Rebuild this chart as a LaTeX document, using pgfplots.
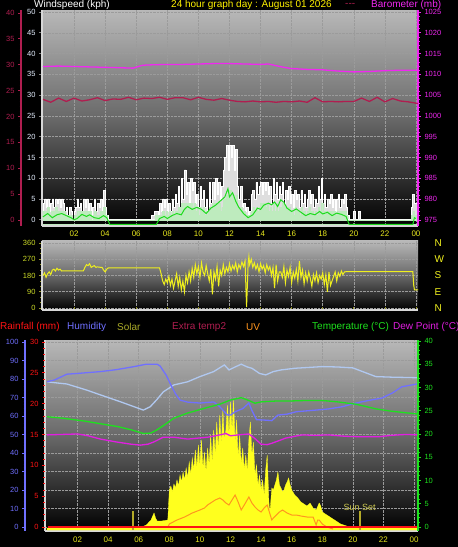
\documentclass[border=0pt]{standalone}
\usepackage{fontspec}
\setmainfont{Liberation Sans}
\usepackage{pgfplots}
\usepackage{pgfplotstable}
\pgfplotsset{compat=1.18}

\definecolor{crim}{RGB}{176,30,80}
\definecolor{magc}{RGB}{240,40,240}
\definecolor{ticky}{RGB}{232,232,30}
\definecolor{whitel}{RGB}{230,240,255}
\definecolor{gustc}{RGB}{222,222,222}
\definecolor{speedc}{RGB}{190,235,190}
\definecolor{avgc}{RGB}{30,220,30}
\definecolor{dirc}{RGB}{240,240,30}
\definecolor{dirlab}{RGB}{205,220,40}
\definecolor{dirtick}{RGB}{150,150,40}
\definecolor{humc}{RGB}{112,112,255}
\definecolor{paleb}{RGB}{176,200,240}
\definecolor{tempc}{RGB}{30,225,30}
\definecolor{dewc}{RGB}{225,30,225}
\definecolor{solc}{RGB}{255,255,30}
\definecolor{uvc}{RGB}{255,150,30}
\definecolor{rainc}{RGB}{255,20,20}
\definecolor{sunc}{RGB}{180,170,40}
\definecolor{sunt}{RGB}{205,200,80}
\definecolor{solt}{RGB}{170,170,40}
\definecolor{gridc}{RGB}{155,155,155}
\definecolor{borderc}{RGB}{215,215,215}
\definecolor{bgtop}{RGB}{184,184,184}
\definecolor{bgmid}{RGB}{105,105,105}

\pgfplotsset{
  every tick label/.append style={font=\fontsize{7.5}{8}\selectfont},
  /pgf/number format/assume math mode=true,
  /pgf/number format/1000 sep={},
  stdbox/.style={scale only axis, anchor=south west},
  panelbg/.style={axis background/.style={shade, top color=bgtop, bottom color=black, middle color=bgmid}},
}

\pgfplotstableread{
t gust speed
0.0 4 2
0.1 5 2
0.2 3 1
0.3 5 3
0.4 2 1
0.5 4 2
0.6 5 2
0.7 3 1
0.8 5 3
0.9 4 2
1.0 5 2
1.1 3 1
1.2 5 2
1.3 4 2
1.4 2 1
1.5 3 1
1.6 1 0
1.7 3 1
1.8 2 1
1.9 0 0
2.0 2 1
2.1 3 1
2.2 5 2
2.3 3 1
2.4 4 2
2.5 2 1
2.6 5 2
2.7 3 1
2.8 5 2
2.9 2 1
3.0 4 2
3.1 1 0
3.2 3 1
3.3 5 2
3.4 2 1
3.5 4 1
3.6 3 1
3.7 5 2
3.8 2 1
3.9 7 3
4.0 3 1
4.1 1 0
4.2 0 0
7.0 1 0
7.2 2 1
7.4 1 0
7.5 4 1
7.6 2 1
7.7 5 2
7.8 3 1
7.9 5 2
8.0 2 1
8.1 4 2
8.2 2 1
8.3 5 2
8.4 3 1
8.5 6 2
8.6 4 2
8.7 8 3
8.8 3 1
8.9 10 4
9.0 5 2
9.1 12 4
9.2 6 3
9.3 9 4
9.4 4 2
9.5 10 4
9.6 7 3
9.7 9 4
9.8 4 2
9.9 6 3
10.0 3 1
10.1 8 3
10.2 5 2
10.3 7 3
10.4 3 1
10.5 5 2
10.6 2 1
10.7 9 3
10.8 4 2
10.9 9 4
11.0 5 2
11.1 10 4
11.2 6 3
11.3 9 4
11.4 5 2
11.5 8 3
11.6 12 5
11.7 15 5
11.8 18 6
11.9 12 5
12.0 18 7
12.1 15 5
12.2 18 6
12.3 12 5
12.4 17 6
12.5 8 3
12.6 5 2
12.7 8 3
12.8 3 1
12.9 4 2
13.0 2 1
13.1 3 1
13.2 0 0
13.3 2 1
13.4 6 2
13.5 7 3
13.6 5 2
13.7 9 3
13.8 6 2
13.9 8 3
14.0 9 4
14.1 6 2
14.2 9 4
14.3 7 3
14.4 9 4
14.5 6 2
14.6 8 3
14.7 4 2
14.8 10 4
14.9 6 2
15.0 9 4
15.1 5 2
15.2 8 3
15.3 6 2
15.4 9 4
15.5 4 2
15.6 7 3
15.7 5 2
15.8 8 3
15.9 4 2
16.0 6 2
16.1 3 1
16.2 7 3
16.3 5 2
16.4 6 2
16.5 3 1
16.6 7 3
16.7 4 2
16.8 6 2
16.9 3 1
17.0 5 2
17.1 7 3
17.2 4 2
17.3 6 2
17.4 3 1
17.5 5 2
17.6 4 1
17.7 8 3
17.8 5 2
17.9 10 4
18.0 4 2
18.1 6 2
18.2 3 1
18.3 5 2
18.4 4 1
18.5 6 2
18.6 3 1
18.7 5 2
18.8 2 1
18.9 5 2
19.0 6 2
19.1 3 1
19.2 5 2
19.3 4 1
19.4 6 2
19.5 3 1
19.6 1 0
19.7 0 0
20.0 2 0
20.1 0 0
20.3 2 0
20.4 0 0
23.7 3 1
23.8 6 2
23.9 4 1
24.0 4 1
24.2 4 1
}\windtab

\pgfplotstableread{
t dir
0.0 180
0.1 195
0.2 170
0.3 190
0.4 200
0.5 185
0.6 210
0.7 215
0.8 205
0.9 220
1.0 210
1.1 215
1.2 205
1.3 206
2.6 206
2.7 225
2.8 240
2.9 235
3.0 245
3.1 225
3.2 230
3.3 235
3.4 225
3.5 228
3.6 226
3.8 225
3.9 210
4.0 200
4.1 215
4.2 222
7.5 222
7.6 190
7.7 150
7.8 130
7.9 160
8.0 140
8.1 175
8.2 125
8.3 160
8.4 110
8.5 150
8.6 190
8.7 120
8.8 170
8.9 100
9.0 150
9.1 90
9.2 180
9.3 140
9.4 200
9.5 150
9.6 220
9.7 170
9.8 240
9.9 190
10.0 230
10.1 170
10.2 250
10.3 200
10.4 180
10.5 235
10.6 190
10.7 150
10.8 215
10.9 75
11.0 200
11.1 160
11.2 230
11.3 120
11.4 210
11.5 180
11.6 240
11.7 190
11.8 225
11.9 200
12.0 245
12.1 205
12.2 235
12.3 215
12.4 250
12.5 200
12.6 240
12.7 220
12.8 255
12.9 230
13.0 260
13.1 5
13.2 245
13.25 285
13.3 240
13.4 270
13.5 225
13.6 250
13.7 215
13.8 240
13.9 200
14.0 245
14.1 215
14.2 235
14.3 195
14.4 240
14.5 210
14.6 230
14.7 180
14.8 225
14.9 110
15.0 240
15.1 150
15.2 200
15.3 200
15.4 170
15.5 230
15.6 140
15.7 210
15.8 175
15.9 225
16.0 140
16.1 200
16.2 165
16.3 215
16.4 150
16.5 260
16.6 170
16.7 210
16.8 135
16.9 195
17.0 150
17.1 200
17.2 165
17.3 120
17.4 185
17.5 150
17.6 195
17.7 140
17.8 180
17.9 160
18.0 195
18.1 130
18.2 185
18.3 90
18.4 200
18.5 125
18.6 150
18.7 175
18.8 200
18.9 150
19.0 195
19.1 175
19.2 205
19.3 185
19.4 200
19.5 201
23.8 201
23.85 130
23.9 100
24.2 100
}\dirtab

\pgfplotstableread{
t sol
0 2
6.0 2
6.2 3
6.5 5
6.8 10
7.0 17
7.1 12
7.2 9
7.5 9
7.9 10
8.0 40
8.1 44
8.2 38
8.3 46
8.4 42
8.5 50
8.6 44
8.7 55
8.8 48
8.9 58
9.0 50
9.1 62
9.2 52
9.3 68
9.4 55
9.5 72
9.6 60
9.7 80
9.8 62
9.9 85
10.0 65
10.1 90
10.2 62
10.3 78
10.4 58
10.5 82
10.6 65
10.7 95
10.8 68
10.9 100
11.0 75
11.1 108
11.2 80
11.3 115
11.4 85
11.5 120
11.6 90
11.7 100
11.8 125
11.9 95
12.0 128
12.1 100
12.2 130
12.3 88
12.4 110
12.5 72
12.6 95
12.7 65
12.8 82
12.9 60
13.0 75
13.1 58
13.2 90
13.3 108
13.4 75
13.5 88
13.6 55
13.7 65
13.8 45
13.9 55
14.0 40
14.1 50
14.2 35
14.3 60
14.4 75
14.5 32
14.55 20
14.6 22
14.7 42
14.8 40
14.9 45
15.0 50
15.1 58
15.2 45
15.3 42
15.4 38
15.5 40
15.6 45
15.7 48
15.8 52
15.9 45
16.0 40
16.2 35
16.4 32
16.6 28
16.8 26
17.0 24
17.2 27
17.4 22
17.6 20
17.8 27
17.9 24
18.0 18
18.2 16
18.4 14
18.6 12
18.8 10
19.0 8
19.2 6
19.4 5
19.6 4
19.8 3
20.0 2
24.2 2
}\soltab

\begin{document}
\begin{tikzpicture}
\useasboundingbox (0,0) rectangle (458pt,547pt);
\fill[black] (0,0) rectangle (458pt,547pt);

% ---------------- titles ----------------
\begin{scope}[every node/.style={anchor=west, inner sep=0pt, font=\fontsize{10}{12}\selectfont}]
\node[white] at (34pt,542pt) {Windspeed (kph)};
\node[text=yellow] at (171pt,542pt) {24 hour graph day : August 01 2026};
\node[text=crim] at (345pt,542pt) {{-}{-}{-}};
\node[text=magc] at (371pt,542pt) {Barometer (mb)};
\node[text=rainc] at (0pt,220pt) {Rainfall (mm)};
\node[text=humc] at (67pt,220pt) {Humidity};
\node[text=solt] at (117pt,220pt) {Solar};
\node[text=crim] at (172pt,220pt) {Extra temp2};
\node[text=uvc] at (246pt,220pt) {UV};
\node[text=tempc] at (312pt,220pt) {Temperature (°C)};
\node[text=dewc] at (393pt,220pt) {Dew Point (°C)};
\end{scope}

% ---------------- top panel: wind ----------------
\begin{axis}[stdbox, at={(42pt,321pt)}, width=376pt, height=216pt,
  xmin=-0.064, xmax=24.13, ymin=-1.5, ymax=50.5,
  panelbg,
  axis x line*=bottom, axis y line*=left,
  axis line style={borderc, line width=1.2pt, -},
  xtick={2,4,...,24}, xticklabels={02,04,06,08,10,12,14,16,18,20,22,00},
  ytick={0,5,...,50},
  grid=major, grid style={gridc, densely dotted, line width=0.6pt},
  xtick align=inside, ytick align=outside,
  tick style={gray, line width=0.8pt}, major tick length=3pt,
  xticklabel style={ticky, font=\fontsize{8}{9}\selectfont, yshift=-1.5pt},
  yticklabel style={whitel},
]
\addplot[const plot, fill=gustc, draw=white, line width=0.8pt] table[x=t, y=gust] {\windtab} \closedcycle;
\addplot[const plot, fill=speedc, draw=speedc, line width=0.4pt] table[x=t, y=speed] {\windtab} \closedcycle;
\addplot[speedc, line width=1.3pt] coordinates {(0,-1.1) (24.13,-1.1)};
\addplot[avgc, line width=1pt] coordinates {
(0,0.7) (0.3,1.5) (0.6,0.5) (0.9,1.2) (1.2,1.5) (1.5,1.0) (1.8,0.5) (2.0,0) (2.2,0.3) (2.5,1.3) (2.8,0.8) (3.0,1.2) (3.3,0.5) (3.6,0.3) (3.9,1.0) (4.1,0.5) (4.3,-1.1) (7.3,-1.1) (7.5,0.3) (7.8,0.8) (8.0,0.3) (8.3,1.0) (8.6,1.5) (8.9,1.2) (9.1,2.5) (9.3,3.2) (9.6,2.5) (9.9,3.0) (10.2,2.5) (10.5,1.5) (10.8,2.8) (11.1,3.5) (11.4,4.5) (11.7,5.5) (11.9,7.5) (12.0,5.5) (12.2,6.5) (12.4,4.5) (12.6,3.0) (12.9,1.5) (13.2,0.5) (13.5,1.2) (13.8,2.8) (14.0,2.5) (14.2,3.5) (14.5,4.0) (14.7,3.6) (14.9,4.3) (15.1,3.2) (15.3,4.8) (15.5,4.2) (15.7,2.8) (16.0,2.0) (16.3,2.6) (16.6,1.8) (16.9,1.0) (17.2,1.5) (17.5,1.2) (17.8,2.0) (18.0,1.4) (18.3,1.8) (18.6,1.0) (18.9,1.6) (19.2,1.3) (19.5,0.8) (19.7,-1.1) (23.8,-1.1) (23.9,0.5) (24.0,0.3)};
\end{axis}

% barometer
\begin{axis}[stdbox, at={(42pt,321pt)}, width=376pt, height=216pt,
  xmin=-0.064, xmax=24.13, ymin=973.56, ymax=1025.48,
  hide x axis, axis y line*=right,
  axis line style={magc, line width=1.2pt, -},
  ytick={975,980,...,1025}, minor y tick num=4,
  ytick align=outside, tick style={magc, line width=0.8pt},
  major tick length=3pt, minor tick length=1.5pt,
  yticklabel style={magc},
]
\addplot[magc, line width=1.3pt] coordinates {
(0,1011.9) (1,1012.0) (2,1011.9) (3,1011.8) (4,1011.7) (5,1011.6) (5.8,1011.5) (6.4,1012.2) (7,1012.3) (8,1012.4) (9,1012.4) (10,1012.5) (11,1012.6) (12,1012.6) (13,1012.5) (14,1012.4) (14.5,1012.5) (15,1012.1) (15.5,1011.7) (16,1011.4) (17,1011.2) (18,1011.1) (19,1010.8) (20,1010.6) (21,1010.7) (22,1010.9) (23,1011.0) (24.13,1011.0)};
\addplot[crim, line width=1.3pt] coordinates {
(0,1004.0) (0.5,1003.3) (1,1004.3) (1.5,1003.5) (2,1004.3) (2.5,1003.6) (3,1003.9) (3.5,1004.4) (4,1003.7) (4.5,1004.1) (5,1004.0) (5.5,1004.5) (6,1003.9) (6.5,1004.3) (7,1004.2) (7.5,1004.5) (8,1004.0) (8.5,1004.4) (9,1004.4) (9.5,1003.9) (10,1004.5) (10.5,1004.0) (11,1003.8) (11.5,1004.2) (12,1003.8) (12.5,1003.5) (13,1003.4) (13.5,1003.6) (14,1003.4) (14.5,1003.5) (15,1003.3) (15.5,1003.5) (16,1003.4) (16.5,1003.6) (17,1003.3) (17.5,1004.4) (18,1003.4) (18.5,1003.5) (19,1003.4) (19.5,1003.5) (20,1003.5) (20.5,1004.3) (21,1003.5) (21.5,1004.5) (22,1003.4) (22.5,1004.2) (23,1003.6) (23.5,1003.4) (24.13,1003.0)};
\end{axis}

% crimson scale at far left
\begin{axis}[stdbox, at={(21pt,321pt)}, width=1pt, height=216pt,
  xmin=0, xmax=1, ymin=-1.16, ymax=40.58,
  hide x axis, axis y line*=left,
  axis line style={crim, line width=1.6pt, -},
  ytick={0,5,...,40}, minor y tick num=4,
  ytick align=outside, tick style={crim, line width=0.8pt},
  major tick length=3pt, minor tick length=1.5pt,
  yticklabel style={crim},
]
\end{axis}

% ---------------- middle panel: direction ----------------
\begin{axis}[stdbox, at={(42pt,237pt)}, width=376pt, height=69pt,
  xmin=-0.064, xmax=24.13, ymin=-11, ymax=371,
  panelbg,
  axis x line*=bottom, axis y line*=left,
  axis line style={borderc, line width=1.2pt, -},
  xtick={2,4,...,24}, xticklabels={},
  ytick={0,90,180,270,360}, minor y tick num=2,
  grid=major, grid style={gridc, densely dotted, line width=0.6pt},
  xtick align=inside, ytick align=outside,
  tick style={dirtick, line width=0.8pt}, major tick length=3pt, minor tick length=1.5pt,
  yticklabel style={dirlab},
]
\addplot[dirc, line width=1pt] table[x=t, y=dir] {\dirtab};
\end{axis}

\begin{axis}[stdbox, at={(42pt,237pt)}, width=376pt, height=69pt,
  xmin=-0.064, xmax=24.13, ymin=-11, ymax=371,
  hide x axis, axis y line*=right,
  axis line style={draw=none},
  ytick={0,90,180,270,360}, yticklabels={N,E,S,W,N},
  major tick length=0pt,
  yticklabel style={text=dirc, font=\fontsize{10}{12}\selectfont, xshift=13pt},
]
\end{axis}

% ---------------- bottom panel ----------------
% solar (pixel units) axis with background and grid
\begin{axis}[stdbox, at={(45pt,16pt)}, width=373pt, height=191pt,
  xmin=-0.13, xmax=24.26, ymin=-1, ymax=190,
  panelbg,
  axis x line*=bottom, axis y line*=left,
  axis line style={borderc, line width=1.2pt, -},
  xtick={2,4,...,24}, xticklabels={02,04,06,08,10,12,14,16,18,20,22,00},
  ytick={3,21.5,40,58.5,77,95.5,114,132.5,151,169.5,188}, yticklabels={},
  grid=major, grid style={gridc, densely dotted, line width=0.6pt},
  major tick length=0pt,
  xticklabel style={ticky, font=\fontsize{8}{9}\selectfont, yshift=-2.5pt},
]
\addplot[fill=solc, draw=solc, line width=0.3pt] table[x=t, y=sol] {\soltab} \closedcycle;
\addplot[uvc, line width=1pt] coordinates {
(7.9,3) (8.0,6) (8.5,10) (9.0,13) (9.5,17) (10.0,20) (10.3,22) (10.5,25) (10.8,28) (11.0,30) (11.3,32) (11.5,30) (11.7,27) (11.9,25) (12.1,30) (12.3,35) (12.5,28) (12.7,20) (12.9,25) (13.2,33) (13.4,27) (13.6,23) (13.8,20) (14.0,18) (14.2,22) (14.4,25) (14.6,15) (14.7,10) (14.8,12) (15.0,15) (15.2,18) (15.4,20) (15.7,17) (16.0,15) (16.3,15) (16.6,14) (17.0,13) (17.4,13) (17.6,5) (17.7,10) (17.8,10) (18.0,6) (18.3,3) (18.7,1)};
\addplot[sunc, line width=1.6pt] coordinates {(5.64,0) (5.64,19)};
\addplot[sunc, line width=1.6pt] coordinates {(20.45,0) (20.45,19)};
\node[text=sunt, font=\fontsize{9}{10}\selectfont] at (axis cs:20.45,23) {Sun Set};
\end{axis}

% humidity lines
\begin{axis}[stdbox, at={(45pt,16pt)}, width=373pt, height=191pt,
  xmin=-0.13, xmax=24.26, ymin=-2.16, ymax=101.08, hide axis]
\addplot[paleb, line width=1.3pt] coordinates {
(0,78.5) (0.5,78) (1.3,77.3) (2.6,74) (3.5,71.4) (4.8,67.7) (5.7,65) (6.3,63.2) (6.75,65) (7.2,69) (7.6,73) (8.3,76.8) (9.2,78.5) (10,81.3) (10.9,84) (11.6,87.6) (11.9,84.9) (12.3,86.5) (12.7,88) (13.1,86.5) (13.4,85.8) (13.9,83) (14.3,82.2) (14.8,84) (15.3,84.9) (16.2,85.8) (17,86.2) (18,86.7) (19,86.5) (20,86) (20.8,83.5) (21.5,81.3) (22.5,81) (24.2,80.7)};
\addplot[humc, line width=1.3pt] coordinates {
(0,78.5) (0.5,79.5) (1.3,82.6) (2,83) (3.5,84) (4.5,85) (5.7,86.7) (6.5,88) (7.2,88) (7.4,87) (7.8,82) (8.1,76.8) (8.4,72) (8.7,68.6) (9.2,67.5) (10,67) (10.9,67.6) (11.3,65) (11.8,60.5) (12,60.5) (12.3,62.3) (12.8,64) (13.2,67) (13.4,63) (13.7,58) (14.2,57.8) (14.7,57.5) (15.1,60.5) (15.7,61) (16.3,62.3) (17.3,63) (18.4,63.8) (19.3,65) (20.2,67) (21.1,68.5) (21.9,69.7) (22.6,72.5) (23.2,75.8) (24.2,77.3)};
\end{axis}

% rainfall scale and line
\begin{axis}[stdbox, at={(45pt,16pt)}, width=373pt, height=191pt,
  xmin=-0.13, xmax=24.26, ymin=-0.65, ymax=30.32,
  hide x axis, axis y line*=left,
  axis line style={draw=none},
  ytick={0,5,...,30}, minor y tick num=4,
  ytick align=outside, tick style={rainc, line width=0.8pt},
  major tick length=3pt, minor tick length=1.5pt,
  yticklabel style={rainc},
]
\addplot[rainc, line width=2.5pt] coordinates {(0.05,0) (24.2,0)};
\end{axis}

% humidity scale at far left
\begin{axis}[stdbox, at={(25pt,16pt)}, width=1pt, height=191pt,
  xmin=0, xmax=1, ymin=-2.16, ymax=101.08,
  hide x axis, axis y line*=left,
  axis line style={humc, line width=1.6pt, -},
  ytick={0,10,...,100}, minor y tick num=4,
  ytick align=outside, tick style={humc, line width=0.8pt},
  major tick length=3pt, minor tick length=1.5pt,
  yticklabel style={humc},
]
\end{axis}

% temperature / dew point
\begin{axis}[stdbox, at={(45pt,16pt)}, width=373pt, height=191pt,
  xmin=-0.13, xmax=24.26, ymin=-0.86, ymax=40.2,
  hide x axis, axis y line*=right,
  axis line style={tempc, line width=1.2pt, -},
  ytick={0,5,...,40}, minor y tick num=4,
  ytick align=outside, tick style={tempc, line width=0.8pt},
  major tick length=3pt, minor tick length=1.5pt,
  yticklabel style={tempc},
]
\addplot[tempc, line width=1.3pt] coordinates {
(0,23.7) (1,23.4) (2.4,22.8) (3.5,22.2) (4.6,21.6) (5.5,20.9) (6.3,20.1) (6.8,20.2) (7.2,20.9) (7.7,22.0) (8.3,23.4) (9.2,24.5) (10.5,25.7) (11.3,26.4) (12,27.3) (12.7,27.8) (13.2,27.2) (13.6,26.6) (14,26.9) (15.1,27.1) (16,27.1) (17,27.2) (18,27.2) (19,26.9) (20.2,26.4) (21.5,25.4) (22.5,24.9) (24.2,24.3)};
\addplot[dewc, line width=1.3pt] coordinates {
(0,19.8) (1,19.9) (2,20) (2.7,19.6) (3.5,18.9) (4.5,18.3) (5.5,17.8) (6.1,17.6) (6.6,17.8) (7,18.3) (7.6,19.3) (8.3,19.3) (9.2,18.9) (10.5,19.3) (11.3,19.8) (11.7,20.1) (12,19.6) (12.5,19.8) (13.2,20) (13.6,19) (14,17.8) (14.4,17.7) (14.7,18) (15.2,18.6) (15.6,19.1) (16.2,19.5) (16.7,19.8) (17.5,19.7) (18.4,19.8) (19.5,19.5) (20.5,19.4) (21.7,19.4) (22.5,19.7) (23.5,19.9) (24.2,19.8)};
\end{axis}

\end{tikzpicture}
\end{document}
